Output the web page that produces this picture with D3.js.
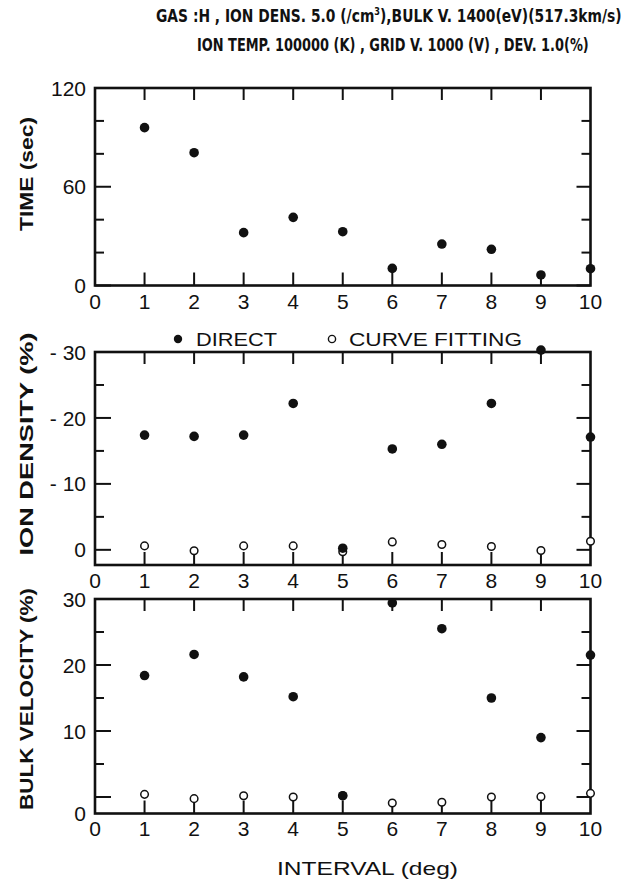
<!DOCTYPE html>
<html>
<head>
<meta charset="utf-8">
<script src="https://cdn.jsdelivr.net/npm/d3@7"></script>
<style>
  html, body { margin: 0; padding: 0; background: #fff; }
  svg { display: block; }
</style>
</head>
<body>
<script>
// Interval angles (deg) shared by all three panels
const intervals = [1, 2, 3, 4, 5, 6, 7, 8, 9, 10];
const xTickValues = [0, 1, 2, 3, 4, 5, 6, 7, 8, 9, 10];

// Panel 1: computation time (sec)
const timeDirect = [95.9, 80.7, 32.1, 41.4, 32.7, 10.4, 25.2, 22.0, 6.4, 10.2];
const timeDomain = [0, 120];
const timeMajor = [0, 60, 120];
const timeMinor = [20, 40, 80, 100];
const timeLabels = ["0", "60", "120"];

// Panel 2: ion density error (%)
const densDirect = [-17.4, -17.2, -17.4, -22.2, -0.25, -15.3, -16.0, -22.2, -30.3, -17.1];
const densCurve  = [-0.6, 0.15, -0.6, -0.6, 0.3, -1.2, -0.8, -0.5, 0.1, -1.3];
const densDomain = [2.3, -30];
const densMajor = [-30, -20, -10, 0];
const densMinor = [-25, -15, -5];
const densLabels = ["- 30", "- 20", "- 10", "0"];

// Panel 3: bulk velocity error (%)
const bulkDirect = [18.4, 21.6, 18.2, 15.2, 0.2, 29.4, 25.5, 15.0, 9.0, 21.5];
const bulkCurve  = [0.4, -0.25, 0.2, 0.0, 0.2, -0.9, -0.8, 0.0, 0.05, 0.55];
const bulkDomain = [-2.5, 30];
const bulkMajor = [0, 10, 20, 30];
const bulkMinor = [5, 15, 25];
const bulkLabels = ["", "10", "20", "30"];

const titleParts = [
  ["GAS :H , ION DENS.  5.0 (/cm", "3", "),BULK V.   1400(eV)(517.3km/s)"],
  ["ION TEMP. 100000 (K) , GRID V. 1000 (V)  ,   DEV. 1.0(%)"]
];

const W = 629, H = 880;
const svg = d3.select("body").append("svg").attr("width", W).attr("height", H);

const x = d3.scaleLinear().domain([0, 10]).range([95, 590.5]);

const ink = "#111";
const heavy = "'DejaVu Sans', 'Liberation Sans', sans-serif";
const sans = "'Liberation Sans', Arial, Helvetica, sans-serif";

// Header lines: a heavy face squeezed horizontally to a fixed width
function header(parts, x0, yBase, width) {
  const g = svg.append("g");
  const t = g.append("text")
    .attr("font-family", heavy).attr("font-weight", 900).attr("font-size", 17)
    .attr("fill", ink);
  parts.forEach((p, i) => {
    const sp = t.append("tspan").text(p);
    if (parts.length === 3 && i === 1) sp.attr("dy", -7).attr("font-size", 10);
    if (parts.length === 3 && i === 2) sp.attr("dy", 7);
  });
  const natural = t.node().getComputedTextLength();
  g.attr("transform", `translate(${x0},${yBase}) scale(${width / natural},1)`);
}
header(titleParts[0], 156, 21.5, 466);
header(titleParts[1], 197, 50.5, 392);

function panel(opts) {
  const y = d3.scaleLinear().domain(opts.domain).range(opts.range);
  const top = Math.min(...opts.range), bottom = Math.max(...opts.range);
  const g = svg.append("g");
  const tickStyle = sel => sel.attr("stroke", ink).attr("stroke-width", 2);

  // inward ticks on the left and right sides
  const yTicks = opts.major.map(v => ({ v, lenL: 16, lenR: 14 }))
    .concat(opts.minor.map(v => ({ v, lenL: 9, lenR: 9 })));
  g.selectAll("line.yl").data(yTicks).join("line").attr("class", "yl")
    .attr("x1", x(0)).attr("x2", d => x(0) + d.lenL)
    .attr("y1", d => y(d.v)).attr("y2", d => y(d.v)).call(tickStyle);
  g.selectAll("line.yr").data(yTicks).join("line").attr("class", "yr")
    .attr("x1", x(10)).attr("x2", d => x(10) - d.lenR)
    .attr("y1", d => y(d.v)).attr("y2", d => y(d.v)).call(tickStyle);

  // inward ticks on the top and bottom sides
  const inner = intervals.slice(0, 9);
  g.selectAll("line.xt").data(inner).join("line").attr("class", "xt")
    .attr("x1", d => x(d)).attr("x2", d => x(d))
    .attr("y1", top).attr("y2", top + 12).call(tickStyle);
  g.selectAll("line.xb").data(inner).join("line").attr("class", "xb")
    .attr("x1", d => x(d)).attr("x2", d => x(d))
    .attr("y1", bottom).attr("y2", bottom - 13).call(tickStyle);

  // tick labels
  g.selectAll("text.yl").data(opts.major).join("text").attr("class", "yl")
    .attr("x", x(0) - 9).attr("y", d => y(d)).attr("dy", "0.36em")
    .attr("text-anchor", "end")
    .attr("font-family", sans).attr("font-size", 21).attr("fill", ink)
    .text((d, i) => opts.labels[i]);
  g.selectAll("text.xl").data(xTickValues).join("text").attr("class", "xl")
    .attr("x", d => x(d)).attr("y", bottom + opts.xPad).attr("dy", "0.72em")
    .attr("text-anchor", "middle")
    .attr("font-family", sans).attr("font-size", 21).attr("fill", ink)
    .text(d => d3.format("d")(d));

  if (opts.extraLabel) {
    g.append("text")
      .attr("x", x(0) - 9).attr("y", y(opts.extraLabel.at)).attr("dy", "0.36em")
      .attr("text-anchor", "end")
      .attr("font-family", sans).attr("font-size", 21).attr("fill", ink)
      .text(opts.extraLabel.text);
  }

  // frame
  g.append("rect")
    .attr("x", x(0)).attr("y", top)
    .attr("width", x(10) - x(0)).attr("height", bottom - top)
    .attr("fill", "none").attr("stroke", ink).attr("stroke-width", 2.6);

  // curve-fitting results: open circles
  if (opts.curve) {
    g.selectAll("circle.cf").data(opts.curve).join("circle")
      .attr("class", "cf")
      .attr("cx", (d, i) => x(intervals[i])).attr("cy", d => y(d))
      .attr("r", 3.8).attr("fill", "#fff").attr("stroke", ink).attr("stroke-width", 1.5);
  }
  // direct results: filled dots
  g.selectAll("circle.dr").data(opts.direct).join("circle")
    .attr("class", "dr")
    .attr("cx", (d, i) => x(intervals[i])).attr("cy", d => y(d))
    .attr("r", 4.8).attr("fill", ink);

  // vertical axis title
  g.append("text")
    .attr("transform", `translate(${opts.titleX},${opts.titleY}) rotate(-90)`)
    .attr("text-anchor", "middle")
    .attr("font-family", sans).attr("font-weight", "bold").attr("font-size", 18)
    .attr("fill", ink)
    .attr("textLength", opts.titleLen).attr("lengthAdjust", "spacingAndGlyphs")
    .text(opts.title);
  return y;
}

panel({
  domain: timeDomain, range: [285.5, 88],
  major: timeMajor, minor: timeMinor, labels: timeLabels, xPad: 8,
  direct: timeDirect,
  title: "TIME  (sec)", titleX: 33, titleY: 174, titleLen: 114
});

panel({
  domain: densDomain, range: [565, 352],
  major: densMajor, minor: densMinor, labels: densLabels, xPad: 8,
  direct: densDirect, curve: densCurve,
  title: "ION   DENSITY   (%)", titleX: 33, titleY: 444, titleLen: 223
});

panel({
  domain: bulkDomain, range: [813.5, 599],
  major: bulkMajor, minor: bulkMinor, labels: bulkLabels, xPad: 7,
  extraLabel: { text: "0", at: bulkDomain[0] },
  direct: bulkDirect, curve: bulkCurve,
  title: "BULK VELOCITY (%)", titleX: 33, titleY: 699, titleLen: 222
});

// legend between the upper two panels
const legend = svg.append("g").attr("font-family", sans).attr("font-size", 19).attr("fill", ink);
legend.append("circle").attr("cx", 178).attr("cy", 339).attr("r", 4.2).attr("fill", ink);
legend.append("text").attr("x", 196).attr("y", 346)
  .attr("textLength", 81).attr("lengthAdjust", "spacingAndGlyphs").text("DIRECT");
legend.append("circle").attr("cx", 332).attr("cy", 339).attr("r", 3.6)
  .attr("fill", "#fff").attr("stroke", ink).attr("stroke-width", 1.4);
legend.append("text").attr("x", 349).attr("y", 346)
  .attr("textLength", 173).attr("lengthAdjust", "spacingAndGlyphs").text("CURVE FITTING");

// horizontal axis title
svg.append("text")
  .attr("x", 277).attr("y", 875)
  .attr("font-family", sans).attr("font-size", 19).attr("fill", ink)
  .attr("textLength", 181).attr("lengthAdjust", "spacingAndGlyphs")
  .text("INTERVAL  (deg)");
</script>
</body>
</html>
